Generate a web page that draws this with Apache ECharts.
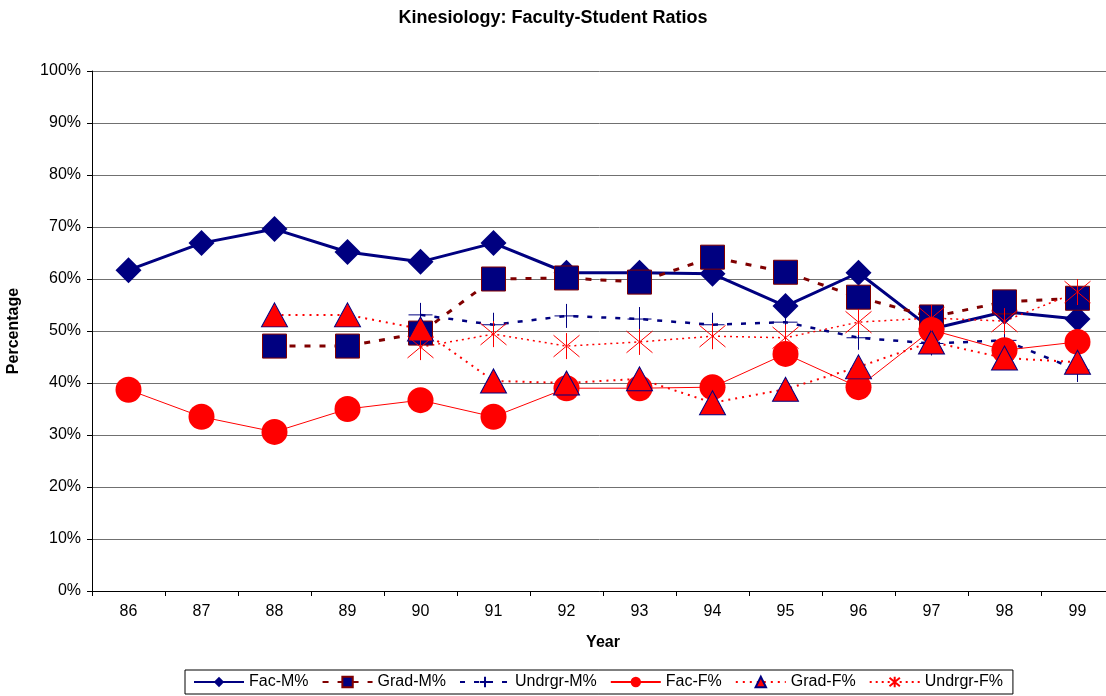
<!DOCTYPE html>
<html><head><meta charset="utf-8">
<script src="https://cdn.jsdelivr.net/npm/echarts@6/dist/echarts.min.js"></script>
<style>html,body{margin:0;padding:0;background:#fff}#c{width:1106px;height:696px}</style>
</head><body><div id="c"></div>
<script>
const years = ['86','87','88','89','90','91','92','93','94','95','96','97','98','99'];
const facM   = [61.7,66.9,69.6,65.2,63.3,66.9,61.2,61.2,61.0,54.8,61.2,50.4,53.7,52.3];
const gradM  = [null,null,47.1,47.1,49.6,60.0,60.2,59.4,64.2,61.3,56.5,52.7,55.6,56.3];
const ugM    = [null,null,null,null,53.1,51.2,52.9,52.3,51.2,51.7,48.7,47.6,48.2,42.5];
const facF   = [38.7,33.5,30.6,35.0,36.7,33.5,39.0,39.0,39.2,45.6,39.2,50.2,46.3,47.9];
const gradF  = [null,null,53.1,53.1,50.4,40.4,40.0,40.8,36.2,38.8,43.1,47.9,44.8,44.0];
const ugF    = [null,null,null,null,46.9,49.4,47.1,47.9,49.0,48.7,51.7,52.5,51.9,57.5];

const NAVY = '#000080', MAROON = '#800000', RED = '#ff0000';
const PLUS = 'path://M0,10 L20,10 M10,0 L10,20';
const STAR = 'path://M0,0 L20,20 M20,0 L0,20 M10,-2 L10,22';
const FONT = 'Liberation Sans, Arial, sans-serif';

const chart = echarts.init(document.getElementById('c'));
function S(name, data, o) {
  return Object.assign({
    name, type: 'line', data, connectNulls: false, animation: false,
    emphasis: { disabled: true }
  }, o);
}
chart.setOption({
  animation: false,
  title: { text: 'Kinesiology: Faculty-Student Ratios', left: 'center', top: 4,
    textStyle: { fontFamily: FONT, fontSize: 18, fontWeight: 'bold', color: '#000' } },
  grid: { left: 92, top: 71, width: 1022, height: 520, containLabel: false, outerBoundsMode: 'none' },
  xAxis: {
    type: 'category', data: years, boundaryGap: true,
    name: 'Year', nameLocation: 'middle', nameGap: 44,
    nameTextStyle: { fontFamily: FONT, fontSize: 16, fontWeight: 'bold', color: '#000' },
    axisLine: { lineStyle: { color: '#000', width: 1 } },
    axisTick: { show: true, interval: 0, length: 5, lineStyle: { color: '#000' } },
    axisLabel: { interval: 0, margin: 13, fontFamily: FONT, fontSize: 16, color: '#000' },
    splitLine: { show: false }
  },
  yAxis: {
    type: 'value', min: 0, max: 100, interval: 10,
    name: 'Percentage', nameLocation: 'middle', nameGap: 70, nameRotate: 90,
    nameTextStyle: { fontFamily: FONT, fontSize: 16, fontWeight: 'bold', color: '#000' },
    axisLine: { show: true, lineStyle: { color: '#000', width: 1 } },
    axisTick: { show: true, length: 5, lineStyle: { color: '#000' } },
    axisLabel: { formatter: '{value}%', margin: 11, fontFamily: FONT, fontSize: 16, color: '#000' },
    splitLine: { show: true, lineStyle: { color: '#707070', width: 1 } }
  },
  legend: {
    bottom: 2, left: 185, itemGap: 13, itemWidth: 50, itemHeight: 13,
    borderColor: '#000', borderWidth: 1, padding: [4, 10, 4, 8],
    textStyle: { fontFamily: FONT, fontSize: 16, color: '#000' },
    data: ['Fac-M%','Grad-M%','Undrgr-M%','Fac-F%','Grad-F%','Undrgr-F%']
  },
  series: [
    S('Fac-M%', facM, { symbol: 'diamond', symbolSize: [26, 26],
      lineStyle: { color: NAVY, width: 3 }, itemStyle: { color: NAVY } }),
    S('Grad-M%', gradM, { symbol: 'rect', symbolSize: 24,
      lineStyle: { color: MAROON, width: 3, type: [6, 9] },
      itemStyle: { color: NAVY, borderColor: MAROON, borderWidth: 1 } }),
    S('Undrgr-M%', ugM, { symbol: PLUS, symbolSize: 24,
      lineStyle: { color: NAVY, width: 2.5, type: [5, 9] },
      itemStyle: { color: 'rgba(0,0,0,0)', borderColor: NAVY, borderWidth: 1 } }),
    S('Fac-F%', facF, { symbol: 'circle', symbolSize: 26,
      lineStyle: { color: RED, width: 1 }, itemStyle: { color: RED } }),
    S('Grad-F%', gradF, { symbol: 'triangle', symbolSize: [26, 24],
      lineStyle: { color: RED, width: 2, type: [2, 5] },
      itemStyle: { color: RED, borderColor: NAVY, borderWidth: 1 } }),
    S('Undrgr-F%', ugF, { symbol: STAR, symbolSize: 26,
      lineStyle: { color: RED, width: 1.5, type: [2, 4] },
      itemStyle: { color: 'rgba(0,0,0,0)', borderColor: RED, borderWidth: 1 } })
  ]
});
</script></body></html>
